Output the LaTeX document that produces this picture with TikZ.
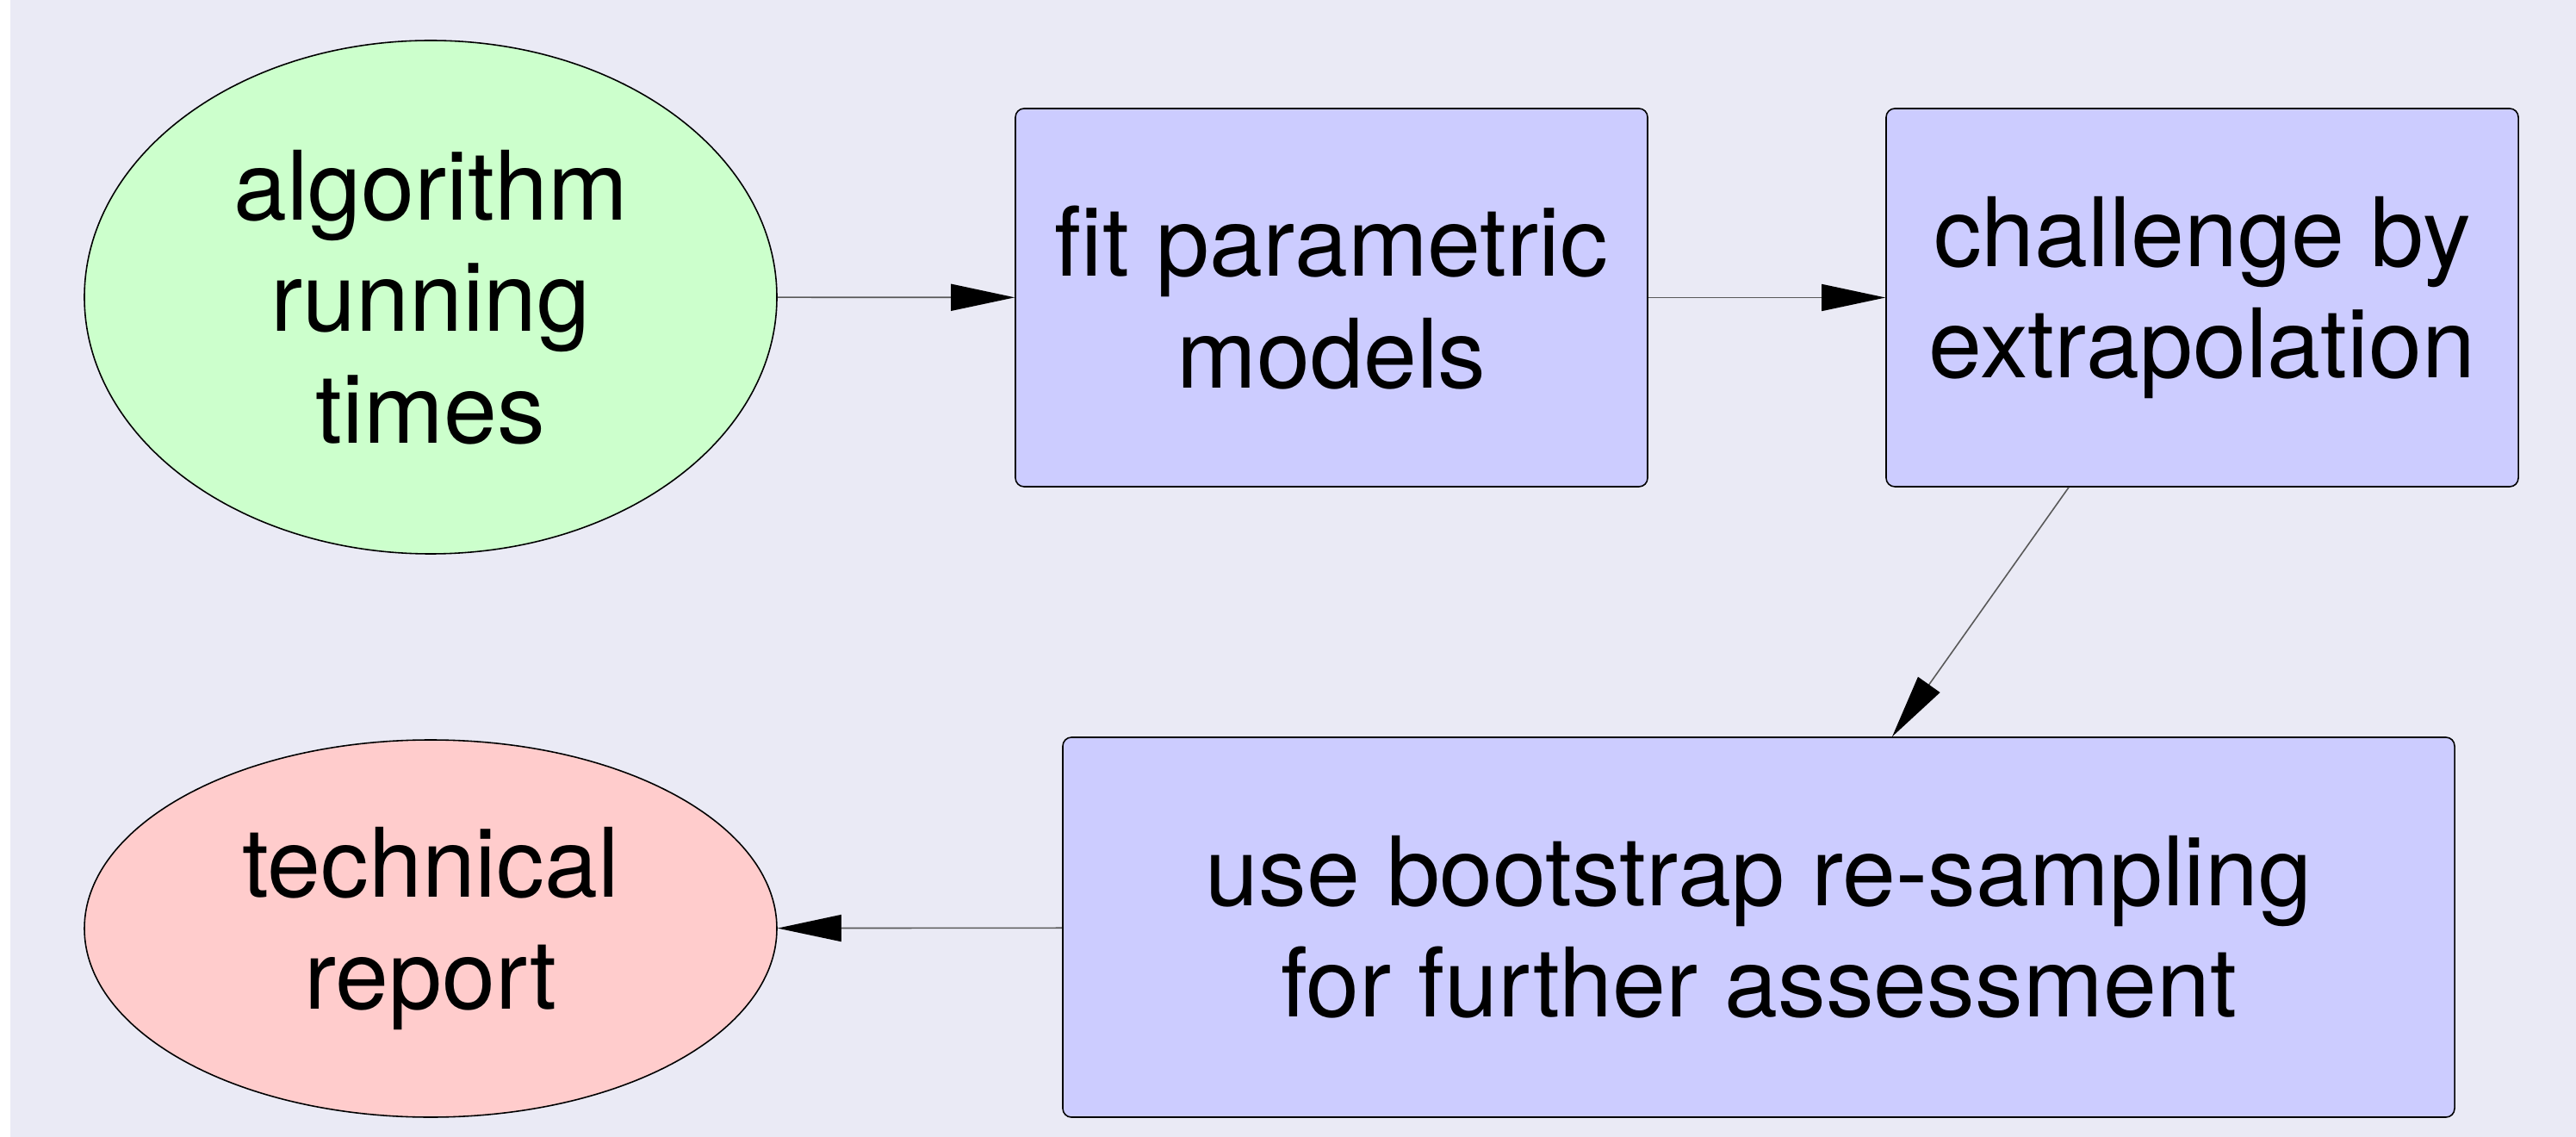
\documentclass[tikz,border=0pt]{standalone}
\usepackage{fontspec}
\setmainfont{TeX Gyre Heros}
\usepackage{tikz}
\usetikzlibrary{arrows.meta,shapes.geometric}
\definecolor{bgcol}{RGB}{234,234,245}
\definecolor{startcol}{RGB}{204,255,204}
\definecolor{stepcol}{RGB}{204,204,255}
\definecolor{endcol}{RGB}{255,204,204}
\tikzset{>/.tip={Triangle[length=7.4mm,width=3.1mm,color=black]},
  every node/.style={font=\fontsize{31.7}{36.8}\selectfont, align=center, draw=black, line width=0.45pt},
  ellnode/.style={ellipse, minimum width=8.04cm, inner sep=0pt},
  boxnode/.style={rectangle, rounded corners=1mm, fill=stepcol, minimum width=7.34cm, minimum height=4.39cm},
  flow/.style={->, draw=black!65, line width=0.45pt}}

\begin{document}
\begin{tikzpicture}
\useasboundingbox (0,0) rectangle (29.91,-13.2);
\fill[bgcol] (0.12,0) rectangle (29.91,-13.2);
\node[ellnode, fill=startcol, minimum height=5.96cm] (times) at (5.00,-3.45)  {algorithm\\running\\times};
\node[boxnode] (fit)    at (15.46,-3.455) {fit parametric\\models};
\node[boxnode] (extra)  at (25.57,-3.455) {challenge by\\extrapolation};
\node[boxnode, minimum width=16.16cm, minimum height=4.41cm] (boot) at (20.42,-10.765) {use bootstrap re-sampling\\for further assessment};
\node[ellnode, fill=endcol, minimum height=4.38cm] (report) at (5.00,-10.78) {technical\\report};
\draw[flow] (times) to (fit);
\draw[flow] (fit) to (extra);
\draw[flow] ([xshift=-1.55cm]extra.south) to ([xshift=1.55cm]boot.north);
\draw[flow] (boot) to (report);
\end{tikzpicture}
\end{document}
